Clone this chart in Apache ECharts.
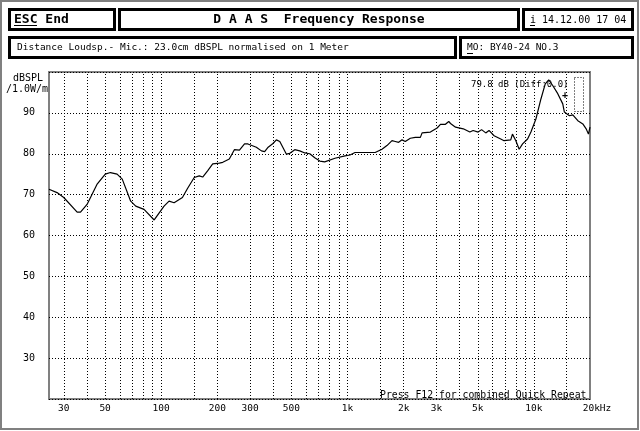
<!DOCTYPE html>
<html>
<head>
<meta charset="utf-8">
<script src="https://cdn.jsdelivr.net/npm/echarts@6.0.0/dist/echarts.min.js"></script>
<style>
html,body{margin:0;padding:0;background:#fff;}
#c{width:640px;height:431px;}
</style>
</head>
<body>
<div id="c"></div>
<script>
// ---- data ----
const freqHz = [25,27.6,30,35.4,36.9,40,45.2,50.1,53.4,58,61.8,68.6,73,80.9,91.7,103.6,110.2,117.3,130,138.4,150.4,160,167,177.4,189,205,214,232,247,263,280,292,324,345,359,375,398,415,433,470,490,521,554,590,627,667,710,754,856,969,1031,1097,1407,1530,1627,1732,1804,1880,1960,2041,2172,2310,2459,2512,2783,3025,3151,3352,3492,3568,3799,4178,4530,4720,5022,5239,5514,5742,6113,6639,6917,7512,7672,8001,8336,8695,9248,9638,10250,10907,11506,12003,12616,13427,14284,14573,15505,16170,17210,18305,19070,19620,20000];
const splDb = [71.3,70.5,69.3,65.7,65.7,67.6,72.5,75.0,75.4,75.0,73.8,68.4,67.2,66.4,63.8,67.2,68.4,68.0,69.3,71.5,74.2,74.6,74.3,75.8,77.5,77.7,77.9,78.7,81.0,80.9,82.4,82.4,81.6,80.7,80.5,81.6,82.5,83.4,83.0,79.9,80.1,81.0,80.7,80.2,80.0,79.0,78.2,78.0,78.9,79.5,79.7,80.3,80.3,81.1,82.0,83.2,83.0,82.8,83.4,83.0,83.8,84.0,84.0,85.1,85.3,86.3,87.2,87.2,87.9,87.4,86.5,86.1,85.3,85.7,85.3,85.9,85.1,85.7,84.4,83.6,83.2,83.4,84.8,83.2,81.1,82.4,83.6,85.3,88.5,93.4,97.1,98.1,96.7,94.7,92.2,90.2,89.3,89.5,88.1,87.3,86.1,84.8,86.5];
const gridFreqs = [30,40,50,60,70,80,90,100,150,200,300,400,500,600,700,800,900,1000,1500,2000,3000,4000,5000,6000,7000,8000,9000,10000,15000];
const xTickFreqs = [30,50,100,200,300,500,1000,2000,3000,5000,10000,20000];
const xTickLabels = ['30','50','100','200','300','500','1k','2k','3k','5k','10k','20kHz'];
const yTicks = [30,40,50,60,70,80,90];

const MONO = '"DejaVu Sans Mono", monospace';

function box(x0,y0,x1,y1){
  return {type:'rect', shape:{x:x0+1.5,y:y0+1.5,width:x1-x0-3,height:y1-y0-3},
    style:{fill:null, stroke:'#000', lineWidth:3}, silent:true};
}
function txt(x,y,s,size,bold,align){
  return {type:'text', x:x, y:y, silent:true,
    style:{text:s, fill:'#000', font:(bold?'bold ':'')+size+'px '+MONO, textAlign:align||'left', textVerticalAlign:'middle'}};
}
function hline(x0,x1,y){
  return {type:'line', shape:{x1:x0,y1:y,x2:x1,y2:y}, style:{stroke:'#000', lineWidth:1}, silent:true};
}

const chart = echarts.init(document.getElementById('c'), null, {renderer:'canvas'});
chart.setOption({
  animation:false,
  backgroundColor:'#fff',
  grid:{left:49, top:72, right:50, bottom:32, show:true, borderColor:'#808080', borderWidth:2, backgroundColor:'transparent'},
  xAxis:{type:'log', min:25, max:20000, logBase:10,
    axisLine:{show:false}, axisTick:{show:false}, axisLabel:{show:false}, splitLine:{show:false}},
  yAxis:{type:'value', min:20, max:100, interval:10,
    axisLine:{show:false}, axisTick:{show:false},
    axisLabel:{margin:14, color:'#000', fontSize:10, fontFamily:MONO,
      formatter:function(v){return yTicks.indexOf(v)>=0 ? String(v) : '';}},
    splitLine:{show:true, lineStyle:{color:'#000', width:1, type:[1,2]}}},
  series:[
    {type:'line', silent:true, data:[],
      markLine:{silent:true, symbol:'none', animation:false, label:{show:false},
        lineStyle:{color:'#000', width:1, type:[1,2]},
        data: gridFreqs.map(f=>({xAxis:f}))}},
    {type:'line', silent:true, data:[],
      markLine:{silent:true, symbol:'none', animation:false,
        lineStyle:{color:'rgba(0,0,0,0)', width:1},
        label:{show:true, position:'start', distance:5, color:'#000', fontSize:9.5, fontFamily:MONO},
        data: xTickFreqs.map((f,i)=>({xAxis:f, label:{formatter:xTickLabels[i], padding: i===xTickFreqs.length-1 ? [0,0,0,14] : 0}}))}},
    {type:'line', silent:true, showSymbol:false, symbol:'none', smooth:false,
      lineStyle:{color:'#000', width:1.2},
      data: freqHz.map((f,i)=>[f, splDb[i]])}
  ],
  graphic:[
    {type:'rect', shape:{x:1,y:1,width:637,height:428}, style:{fill:null, stroke:'#808080', lineWidth:2}, silent:true},
    box(8,8,116,31), box(118,8,520,31), box(522,8,634,31),
    box(8,36,457,59), box(459,36,634,59),
    txt(14,20,'ESC End',13,true), hline(14,37,25.5),
    txt(319,20,'D A A S  Frequency Response',13,true,'center'),
    txt(530,20,'i 14.12.00 17 04',10,false), hline(530,535,25.5),
    txt(17,47.5,'Distance Loudsp.- Mic.: 23.0cm dBSPL normalised on 1 Meter',9.5,false),
    txt(467,47.5,'MO: BY40-24 NO.3',9.5,false), hline(467,473,53.5),
    txt(28,78,'dBSPL',10,false,'center'),
    txt(27,89,'/1.0W/m',10,false,'center'),
    txt(471,85,'79.8 dB (Diff:0.0)',9,false),
    txt(565,95,'+',10,true,'center'),
    {type:'rect', shape:{x:574.5,y:77.5,width:9,height:34}, style:{fill:null, stroke:'#000', lineWidth:1, lineDash:[1,2]}, silent:true},
    txt(380,395,'Press F12 for combined Quick Repeat',9.8,false)
  ]
});
</script>
</body>
</html>
